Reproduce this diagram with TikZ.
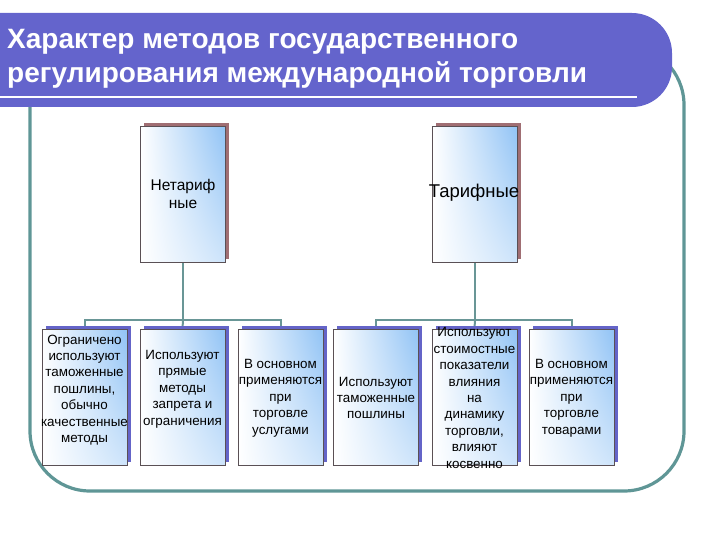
\documentclass[tikz,border=0pt]{standalone}
\usepackage{fontspec}
\setmainfont{Liberation Sans}
\usetikzlibrary{shadows,backgrounds,shadings}
\definecolor{barblue}{RGB}{100,100,204}
\definecolor{frameteal}{RGB}{95,150,150}
\definecolor{conncolor}{RGB}{105,150,150}
\definecolor{shadowpurple}{RGB}{100,100,200}
\definecolor{shadowmauve}{RGB}{160,110,115}
\definecolor{faceblue}{RGB}{145,195,245}
\definecolor{facedraw}{RGB}{90,80,85}
\tikzset{
  face/.style={draw=facedraw, line width=0.8pt, minimum width=85pt, minimum height=136pt, inner sep=0pt,
    upper left=white, upper right=faceblue, lower left=white, lower right=white!55!faceblue},
  topbox/.style={face, general shadow={fill=shadowmauve, shadow xshift=3.5pt, shadow yshift=3.5pt}},
  lowbox/.style={face, general shadow={fill=shadowpurple, shadow xshift=3.5pt, shadow yshift=3.5pt}},
  boxtext/.style={align=center, font=\fontsize{13.4}{16.4}\selectfont, inner sep=0pt, text=black},
  titletext/.style={font=\fontsize{28}{32}\selectfont\bfseries, text=white, inner sep=0pt, anchor=base west},
  conn/.style={draw=conncolor, line width=2pt},
}
\begin{document}
\begin{tikzpicture}[x=1pt,y=-1pt]
\useasboundingbox (0,0) rectangle (720,540);
% outer frame
\draw[frameteal, line width=3.2pt, rounded corners=60] (30,45) rectangle (684,491);
% title bar
\fill[barblue] (0,13) -- (632,13) arc(-90:0:40) -- (672,67) arc(0:90:40) -- (0,107) -- cycle;
\draw[white, line width=2.5pt] (0,97) -- (637,97);
\node[titletext] (title1) at (7,49) {Характер методов государственного};
\node[titletext] (title2) at (7,83) {регулирования международной торговли};
% top boxes
\node[topbox] (tl) at (183,194.5) {};
\node[topbox] (tr) at (475,194.5) {};
\node[boxtext, font=\fontsize{15.5}{18}\selectfont] (tlt) at (183,194) {Нетариф\\ные};
\node[boxtext, font=\fontsize{18.5}{20}\selectfont] (trt) at (474,193) {Тарифные};
% bottom boxes
\node[lowbox] (b1) at (84.5,397) {};
\node[lowbox] (b2) at (182.5,397) {};
\node[lowbox] (b3) at (280.5,397) {};
\node[lowbox] (b4) at (376,397) {};
\node[lowbox] (b5) at (474.5,397) {};
\node[lowbox] (b6) at (571.5,397) {};
\node[boxtext] (t1) at (84.5,390) {Ограничено\\используют\\таможенные\\пошлины,\\обычно\\качественные\\методы};
\node[boxtext] (t2) at (182.5,389) {Используют\\прямые\\методы\\запрета и\\ограничения};
\node[boxtext] (t3) at (280.5,398) {В основном\\применяются\\при\\торговле\\услугами};
\node[boxtext] (t4) at (376,398) {Используют\\таможенные\\пошлины};
\node[boxtext] (t5) at (474.5,398) {Используют\\стоимостные\\показатели\\влияния\\на\\динамику\\торговли,\\влияют\\косвенно};
\node[boxtext] (t6) at (571.5,398) {В основном\\применяются\\при\\торговле\\товарами};
% connectors
\begin{scope}[on background layer]
\coordinate (busL) at (183,320);
\coordinate (busR) at (475,320);
\draw[conn] (tl.south) -- (busL);
\draw[conn] (b1.north) -- (b1.north |- busL) -- (b3.north |- busL) -- (b3.north);
\draw[conn] (busL) -- (b2.north);
\draw[conn] (tr.south) -- (busR);
\draw[conn] (b4.north) -- (b4.north |- busR) -- (b6.north |- busR) -- (b6.north);
\draw[conn] (busR) -- (b5.north);
\end{scope}
\end{tikzpicture}
\end{document}
